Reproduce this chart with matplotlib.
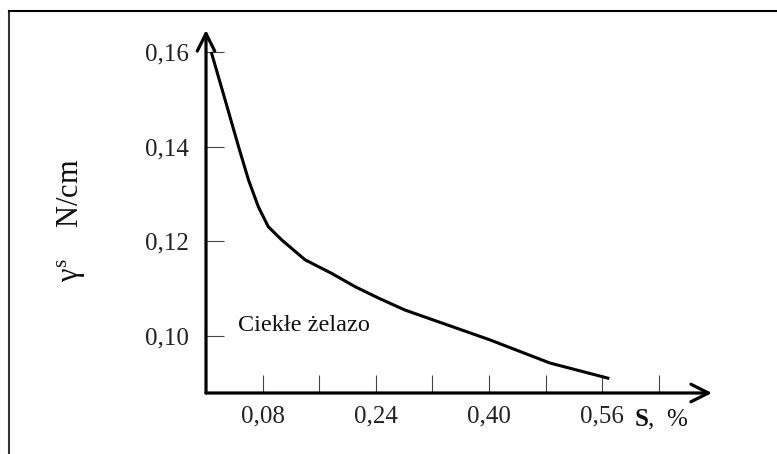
import numpy as np
import matplotlib
matplotlib.use("Agg")
import matplotlib.pyplot as plt
from matplotlib.lines import Line2D

plt.rcParams['font.family'] = ['Liberation Serif', 'DejaVu Serif']
plt.rcParams['mathtext.fontset'] = 'custom'
plt.rcParams['mathtext.rm'] = 'Liberation Serif'
plt.rcParams['mathtext.it'] = 'Liberation Serif'
plt.rcParams['mathtext.bf'] = 'Liberation Serif:bold'

# curve: S (%) vs gamma^s (N/cm)
s_pct = [0.008, 0.027, 0.046, 0.060, 0.074, 0.088, 0.107, 0.140, 0.178, 0.211,
         0.244, 0.281, 0.321, 0.401, 0.486, 0.568]
gamma = [0.1597, 0.1499, 0.1400, 0.1330, 0.1273, 0.1231, 0.1203, 0.1161, 0.1132, 0.1104,
         0.1080, 0.1055, 0.1034, 0.0992, 0.0943, 0.0911]

x_ticks = [0.08, 0.16, 0.24, 0.32, 0.40, 0.48, 0.56, 0.64]
x_labels = ["0,08", "", "0,24", "", "0,40", "", "0,56", ""]
y_ticks = [0.10, 0.12, 0.14, 0.16]
y_labels = ["0,10", "0,12", "0,14", "0,16"]

x_min, x_max = 0.0, 0.7152
y_min, y_max = 0.08796, 0.16465

fig = plt.figure(figsize=(7.77, 4.54), dpi=100)
ax = fig.add_axes([206/777, 61/454, 506/777, 363/454])
ax.set_xlim(x_min, x_max)
ax.set_ylim(y_min, y_max)
for sp in ax.spines.values():
    sp.set_visible(False)

# axes drawn as arrows
arr = dict(arrowstyle='->,head_length=0.7,head_width=0.35', lw=2.3, color='black',
           shrinkA=0, shrinkB=0, mutation_scale=18)
ax.annotate('', xy=(x_max, y_min), xytext=(x_min, y_min), arrowprops=arr, annotation_clip=False)
ax.annotate('', xy=(x_min, y_max), xytext=(x_min, y_min), arrowprops=arr, annotation_clip=False)

ax.plot(s_pct, gamma, color='black', lw=2.2, solid_joinstyle='round', clip_on=False)

ax.set_xticks(x_ticks)
ax.set_xticklabels(x_labels)
ax.set_yticks(y_ticks)
ax.set_yticklabels(y_labels)
ax.tick_params(axis='both', direction='in', length=13, width=0.8, color='#444444',
               labelsize=18, labelcolor='#222222')
ax.tick_params(axis='x', pad=9)
ax.tick_params(axis='y', pad=12)

ax.set_ylabel(r"$\gamma^{s}$    N/cm", fontsize=22, color='#111111')
ax.yaxis.set_label_coords(-0.235, 0.475)

ax.text(0.90, -0.074, r"$\mathbf{S}$,  %", transform=ax.transAxes, fontsize=18,
        ha='center', va='center', color='#111111')
ax.text(0.045, 0.1023, "Ciekłe żelazo", fontsize=17.5, ha='left', va='center', color='#111111')

# frame of the original figure (left and top edges)
fig.add_artist(Line2D([9/777, 9/777], [0, 1 - 11/454], transform=fig.transFigure,
                      color='#333333', lw=1.5))
fig.add_artist(Line2D([9/777, 776/777], [1 - 11/454, 1 - 11/454], transform=fig.transFigure,
                      color='black', lw=1.5))

fig.savefig("out.png", dpi=100)
